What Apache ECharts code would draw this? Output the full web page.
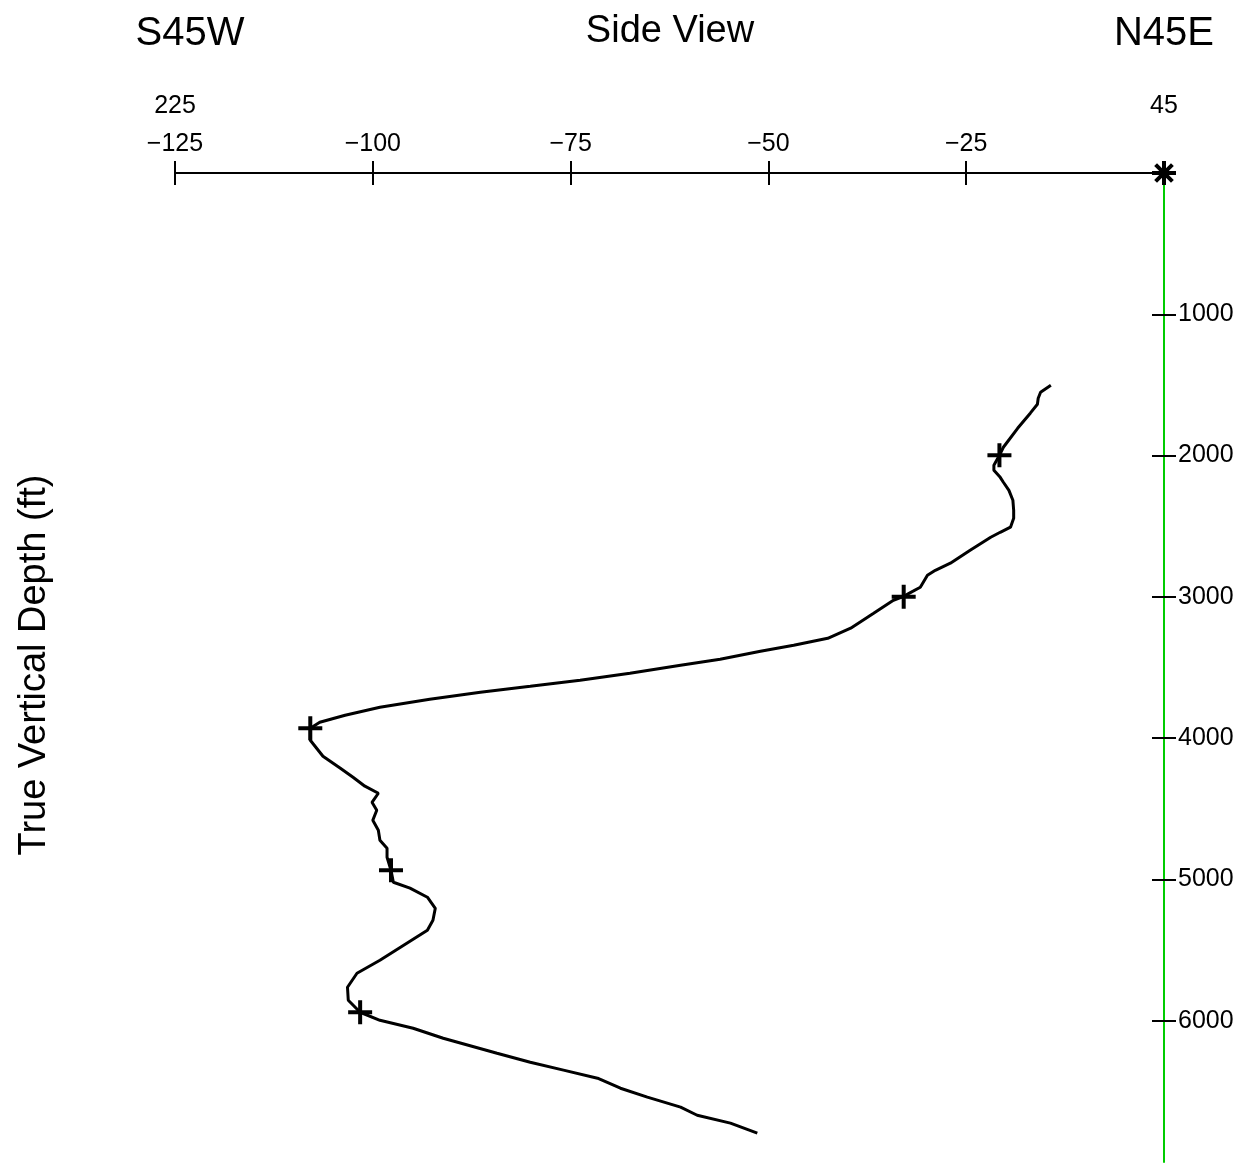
<!DOCTYPE html>
<html>
<head>
<meta charset="utf-8">
<script src="https://cdn.jsdelivr.net/npm/echarts@6/dist/echarts.min.js"></script>
<style>
html,body{margin:0;padding:0;background:#fff;}
#chart{width:1249px;height:1173px;}
</style>
</head>
<body>
<div id="chart"></div>
<script>
// Vertical section along N45E: horizontal displacement (ft) and true vertical depth (ft)
const sectionFt = [-14.3,-15.6,-15.9,-16.0,-16.9,-18.5,-20.3,-20.8,-21.5,-21.5,-20.7,-20.3,-19.6,-19.1,-19.0,-19.0,-19.4,-20.7,-21.9,-24.5,-27.0,-28.9,-29.9,-30.8,-32.0,-32.9,-34.2,-36.7,-39.6,-42.5,-46.8,-51.0,-56.1,-61.1,-67.5,-73.8,-80.1,-86.4,-92.8,-99.1,-103.5,-106.7,-107.9,-107.9,-106.3,-104.1,-102.5,-101.0,-99.3,-100.1,-99.5,-100.0,-99.3,-99.1,-98.2,-98.2,-97.7,-97.4,-95.3,-93.1,-92.1,-92.4,-93.1,-95.7,-99.1,-102.0,-103.2,-103.1,-101.6,-99.1,-94.9,-91.1,-84.3,-80.1,-75.9,-71.6,-68.7,-65.3,-61.1,-59.0,-54.8,-51.4];
const tvdFt = [1502,1552,1594,1637,1700,1807,1941,1998,2068,2104,2154,2189,2246,2316,2387,2444,2507,2543,2578,2670,2762,2812,2847,2932,2968,2996,3024,3116,3222,3293,3342,3385,3442,3484,3541,3590,3633,3675,3725,3781,3838,3888,3930,4015,4128,4213,4277,4340,4390,4454,4510,4581,4652,4722,4779,4843,4935,5020,5062,5126,5204,5289,5359,5451,5572,5664,5763,5855,5940,5997,6053,6124,6230,6294,6350,6407,6478,6541,6612,6669,6725,6796];
// Depth markers (+)
const markerSection = [-20.8,-32.9,-107.9,-97.7,-101.6];
const markerTvd = [1998,3000,3930,4935,5940];
// Wellhead (*)
const wellheadSection = [0];
const wellheadTvd = [0];
// Axis ticks
const sectionTicks = [-125,-100,-75,-50,-25];
const depthTicks = [1000,2000,3000,4000,5000,6000];
const azimuthLabels = {"-125":"225","0":"45"};
const titleLeft = "S45W", titleCenter = "Side View", titleRight = "N45E";
const depthAxisName = "True Vertical Depth (ft)";

const FONT = "Liberation Sans, Arial, Helvetica, sans-serif";
const chart = echarts.init(document.getElementById('chart'), null, {renderer:'canvas'});

const lineData = sectionFt.map((v,i)=>[v, tvdFt[i]]);
const markData = markerSection.map((v,i)=>[v, markerTvd[i]]);
const wellData = wellheadSection.map((v,i)=>[v, wellheadTvd[i]]);

const fmtX = v => {
  const k = String(v);
  const main = v === 0 ? ' ' : (v < 0 ? '\u2212' + Math.abs(v) : String(v));
  if (azimuthLabels[k] !== undefined) return azimuthLabels[k] + '\n' + main;
  return main;
};

const baseX = {type:'value', position:'top', min:-125, max:0, interval:25};
const baseY = {type:'value', position:'right', min:0, max:7000, interval:1000, inverse:true};

chart.setOption({
  animation:false,
  backgroundColor:'#fff',
  grid:{left:175, top:173, width:989, height:989, containLabel:false},
  xAxis:[
    Object.assign({}, baseX, {
      axisLine:{show:true, lineStyle:{color:'#000', width:2}},
      axisTick:{show:true, inside:false, length:12, lineStyle:{color:'#000', width:2}, customValues:sectionTicks},
      axisLabel:{show:true, margin:10, fontFamily:FONT, fontSize:25, color:'#000', lineHeight:38,
        customValues:sectionTicks.concat([0]), formatter:fmtX},
      splitLine:{show:false}
    }),
    Object.assign({}, baseX, {
      axisLine:{show:false},
      axisTick:{show:true, inside:true, length:12, lineStyle:{color:'#000', width:2}, customValues:sectionTicks},
      axisLabel:{show:false},
      splitLine:{show:false}
    })
  ],
  yAxis:[
    Object.assign({}, baseY, {
      axisLine:{show:true, lineStyle:{color:'#00cc00', width:2}},
      axisTick:{show:true, inside:false, length:12, lineStyle:{color:'#000', width:2}, customValues:depthTicks},
      axisLabel:{show:true, margin:14, fontFamily:FONT, fontSize:25, color:'#000', customValues:depthTicks,
        formatter:v => String(v)},
      splitLine:{show:false}
    }),
    Object.assign({}, baseY, {
      axisLine:{show:false},
      axisTick:{show:true, inside:true, length:12, lineStyle:{color:'#000', width:2}, customValues:depthTicks},
      axisLabel:{show:false},
      splitLine:{show:false}
    })
  ],
  graphic:[
    {type:'text', x:190, y:34, style:{text:titleLeft, font:'40px '+FONT, fill:'#000', textAlign:'center', textVerticalAlign:'middle'}},
    {type:'text', x:670, y:32, style:{text:titleCenter, font:'38px '+FONT, fill:'#000', textAlign:'center', textVerticalAlign:'middle'}},
    {type:'text', x:1164, y:34, style:{text:titleRight, font:'40px '+FONT, fill:'#000', textAlign:'center', textVerticalAlign:'middle'}},
    {type:'text', x:35, y:665, rotation:Math.PI/2, style:{text:depthAxisName, font:'38px '+FONT, fill:'#000', textAlign:'center', textVerticalAlign:'middle'}}
  ],
  series:[
    {type:'line', xAxisIndex:0, yAxisIndex:0, data:lineData, showSymbol:false, symbol:'none',
      lineStyle:{color:'#000', width:3}, z:3},
    {type:'scatter', xAxisIndex:0, yAxisIndex:0, data:markData, symbol:'path://M10,0 L10,20 M0,10 L20,10', symbolSize:24,
      itemStyle:{color:'rgba(0,0,0,0)', borderColor:'#000', borderWidth:4, opacity:1}, z:4},
    {type:'scatter', xAxisIndex:0, yAxisIndex:0, data:wellData,
      symbol:'path://M10,0 L10,20 M0,10 L20,10 M3,3 L17,17 M3,17 L17,3', symbolSize:24,
      itemStyle:{color:'rgba(0,0,0,0)', borderColor:'#000', borderWidth:4, opacity:1}, z:5}
  ]
});
</script>
</body>
</html>
